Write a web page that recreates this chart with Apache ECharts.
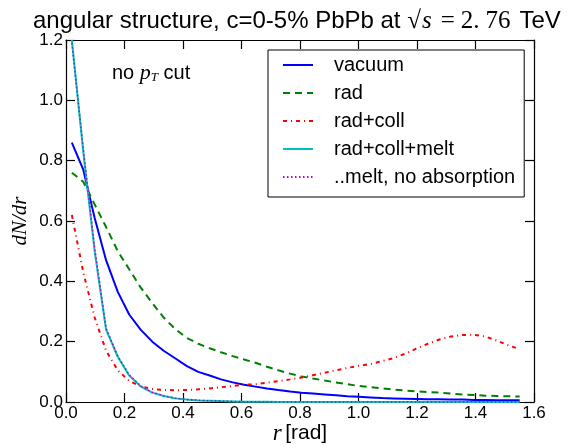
<!DOCTYPE html>
<html>
<head>
<meta charset="utf-8">
<script src="https://cdn.jsdelivr.net/npm/echarts@6/dist/echarts.min.js"></script>
<style>html,body{margin:0;padding:0;background:#fff}#c{width:568px;height:447px}</style>
</head>
<body>
<div id="c"></div>
<script>
// r bin centres [rad]
const rValues = [0.020, 0.059, 0.098, 0.137, 0.177, 0.216, 0.255, 0.295, 0.334, 0.373,
  0.412, 0.452, 0.491, 0.530, 0.570, 0.609, 0.648, 0.687, 0.726, 0.766,
  0.805, 0.844, 0.884, 0.923, 0.962, 1.001, 1.041, 1.080, 1.119, 1.159,
  1.198, 1.237, 1.276, 1.316, 1.355, 1.394, 1.433, 1.473, 1.512, 1.551];

const vacuum = [0.86, 0.77, 0.61, 0.47, 0.365, 0.29, 0.24, 0.20, 0.17, 0.145,
  0.12, 0.10, 0.088, 0.075, 0.065, 0.057, 0.051, 0.045, 0.040, 0.035,
  0.031, 0.028, 0.025, 0.022, 0.019, 0.017, 0.015, 0.013, 0.012, 0.011,
  0.010, 0.009, 0.009, 0.008, 0.008, 0.007, 0.007, 0.006, 0.006, 0.006];

const rad = [0.76, 0.73, 0.655, 0.58, 0.50, 0.44, 0.38, 0.328, 0.28, 0.242,
  0.213, 0.193, 0.178, 0.165, 0.152, 0.141, 0.13, 0.117, 0.105, 0.094,
  0.085, 0.078, 0.071, 0.065, 0.059, 0.053, 0.049, 0.045, 0.041, 0.038,
  0.035, 0.033, 0.031, 0.028, 0.025, 0.023, 0.021, 0.020, 0.019, 0.018];

const radColl = [0.62, 0.43, 0.28, 0.17, 0.105, 0.07, 0.052, 0.043, 0.040, 0.039,
  0.040, 0.042, 0.045, 0.049, 0.053, 0.057, 0.059, 0.064, 0.069, 0.075,
  0.081, 0.089, 0.097, 0.105, 0.113, 0.120, 0.126, 0.135, 0.145, 0.160,
  0.177, 0.193, 0.207, 0.217, 0.222, 0.223, 0.217, 0.204, 0.188, 0.175];

const radCollMelt = [1.20, 0.83, 0.50, 0.24, 0.15, 0.088, 0.052, 0.031, 0.020, 0.012,
  0.008, 0.005, 0.004, 0.003, 0.002, 0.001, 0.001, 0.001, 0.0, 0.0,
  0.0, 0.0, 0.0, 0.0, 0.0, 0.0, 0.0, 0.0, 0.0, 0.0,
  0.0, 0.0, 0.0, 0.0, 0.0, 0.0, 0.0, 0.0, 0.0, 0.0];

const meltNoAbs = [1.19, 0.84, 0.51, 0.245, 0.152, 0.09, 0.054, 0.032, 0.021, 0.013,
  0.008, 0.006, 0.004, 0.003, 0.002, 0.001, 0.001, 0.001, 0.0, 0.0,
  0.0, 0.0, 0.0, 0.0, 0.0, 0.0, 0.0, 0.0, 0.0, 0.0,
  0.0, 0.0, 0.0, 0.0, 0.0, 0.0, 0.0, 0.0, 0.0, 0.0];

const seriesNames = ['vacuum', 'rad', 'rad+coll', 'rad+coll+melt', '..melt, no absorption'];
const xTicks = [0.0, 0.2, 0.4, 0.6, 0.8, 1.0, 1.2, 1.4, 1.6];
const yTicks = [0.0, 0.2, 0.4, 0.6, 0.8, 1.0, 1.2];

const zip = (ys) => rValues.map((r, i) => [r, ys[i]]);
const SANS = 'Liberation Sans, Arial, sans-serif';
const SERIF = 'Liberation Serif, DejaVu Serif, serif';

const chart = echarts.init(document.getElementById('c'), null, {renderer: 'canvas'});

const axisCommon = {
  type: 'value',
  splitLine: {show: false},
  axisLine: {show: true, onZero: false, lineStyle: {color: '#000', width: 1.2}},
  axisTick: {show: true, inside: true, length: 9, lineStyle: {color: '#000', width: 1.2}},
};

const option = {
  animation: false,
  backgroundColor: '#fff',
  title: {
    text: '{a|angular structure, c=0-5% PbPb at }{m|√}{mi|s}{eq|=}{n|2.}{n2|76}{t|TeV}',
    left: 33,
    top: 9,
    padding: 0,
    textStyle: {
      fontWeight: 'normal',
      rich: {
        a: {fontFamily: SANS, fontSize: 24, fontWeight: 'normal', color: '#000'},
        t: {fontFamily: SANS, fontSize: 24, fontWeight: 'normal', color: '#000', padding: [0, 0, 0, 9]},
        m: {fontFamily: SERIF, fontSize: 25, fontWeight: 'normal', color: '#000'},
        mi: {fontFamily: SERIF, fontSize: 25, fontStyle: 'italic', fontWeight: 'normal', color: '#000', padding: [0, 0, 0, 1]},
        eq: {fontFamily: SERIF, fontSize: 25, fontWeight: 'normal', color: '#000', padding: [0, 6, 0, 9]},
        n: {fontFamily: SERIF, fontSize: 25, fontWeight: 'normal', color: '#000'},
        n2: {fontFamily: SERIF, fontSize: 25, fontWeight: 'normal', color: '#000', padding: [0, 0, 0, 6]}
      }
    }
  },
  grid: {left: 66, right: 34, top: 40, bottom: 45, containLabel: false, outerBoundsMode: 'none'},
  legend: {
    data: seriesNames,
    orient: 'vertical',
    left: 268,
    top: 50,
    itemWidth: 30,
    itemHeight: 14,
    itemGap: 8,
    padding: [5, 9, 10, 14],
    borderColor: '#000',
    borderWidth: 1,
    backgroundColor: '#fff',
    itemStyle: {opacity: 0},
    textStyle: {fontFamily: SANS, fontSize: 20, color: '#000', padding: [0, 0, 0, 16]}
  },
  xAxis: [
    Object.assign({}, axisCommon, {
      min: 0, max: 1.6, interval: 0.2, position: 'bottom',
      axisLabel: {show: true, margin: 3, fontFamily: SANS, fontSize: 17, color: '#000',
        formatter: (v) => xTicks.some(t => Math.abs(t - v) < 1e-9) ? v.toFixed(1) : ''},
      name: '{i|r} {a|[rad]}',
      nameLocation: 'middle',
      nameGap: 20,
      nameMoveOverlap: false,
      nameTextStyle: {rich: {
        i: {fontFamily: SERIF, fontStyle: 'italic', fontSize: 23, color: '#000'},
        a: {fontFamily: SANS, fontSize: 21, color: '#000'}
      }}
    }),
    Object.assign({}, axisCommon, {
      min: 0, max: 1.6, interval: 0.2, position: 'top',
      axisLabel: {show: false}
    })
  ],
  yAxis: [
    Object.assign({}, axisCommon, {
      min: 0, max: 1.2, interval: 0.2, position: 'left',
      axisLabel: {show: true, margin: 3, fontFamily: SANS, fontSize: 17, color: '#000',
        formatter: (v) => yTicks.some(t => Math.abs(t - v) < 1e-9) ? v.toFixed(1) : ''},
      name: 'dN/dr',
      nameLocation: 'middle',
      nameGap: 35,
      nameMoveOverlap: false,
      nameRotate: 90,
      nameTextStyle: {fontFamily: SERIF, fontStyle: 'italic', fontSize: 21, color: '#000'}
    }),
    Object.assign({}, axisCommon, {
      min: 0, max: 1.2, interval: 0.2, position: 'right',
      axisLabel: {show: false}
    })
  ],
  graphic: [{
    type: 'text',
    left: 112,
    top: 62,
    style: {
      text: '{a|no }{p|p}{s|T}{a| cut}',
      rich: {
        a: {fontFamily: SANS, fontSize: 20, fill: '#000'},
        p: {fontFamily: SERIF, fontStyle: 'italic', fontSize: 22, fill: '#000'},
        s: {fontFamily: SERIF, fontStyle: 'italic', fontSize: 13, fill: '#000', padding: [10, 0, 0, 0]}
      }
    }
  }],
  series: [
    {name: seriesNames[0], type: 'line', data: zip(vacuum), symbol: 'none', z: 3,
      lineStyle: {color: '#0000FF', width: 2}, itemStyle: {color: '#0000FF'}},
    {name: seriesNames[1], type: 'line', data: zip(rad), symbol: 'none', z: 3,
      lineStyle: {color: '#008000', width: 2, type: [7, 5]}, itemStyle: {color: '#008000'}},
    {name: seriesNames[2], type: 'line', data: zip(radColl), symbol: 'none', z: 3,
      lineStyle: {color: '#FF0000', width: 2, type: [4, 4, 1, 4]}, itemStyle: {color: '#FF0000'}},
    {name: seriesNames[3], type: 'line', data: zip(radCollMelt), symbol: 'none', z: 3,
      lineStyle: {color: '#00BFBF', width: 2}, itemStyle: {color: '#00BFBF'}},
    {name: seriesNames[4], type: 'line', data: zip(meltNoAbs), symbol: 'none', z: 4,
      lineStyle: {color: '#BF00BF', width: 1.5, type: [1.5, 2.5]}, itemStyle: {color: '#BF00BF'}}
  ]
};
chart.setOption(option);
</script>
</body>
</html>
